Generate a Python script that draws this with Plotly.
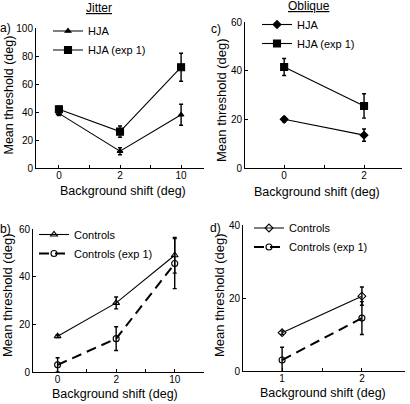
import plotly.graph_objects as go

# ---------------- data ----------------
# Panel a (Jitter, HJA)
a_shift = ["0", "2", "10"]
a_hja = [39, 12, 38]
a_hja_err = [1.5, 2.5, 7.5]
a_hja1 = [42, 26, 72]
a_hja1_err = [2, 4, 10]

# Panel b (Jitter, Controls)
b_shift = ["0", "2", "10"]
b_ctl = [15, 29, 49]
b_ctl_err = [0.5, 2.5, 7.5]
b_ctl1 = [3, 14, 45.5]
b_ctl1_err = [3, 5, 10.5]

# Panel c (Oblique, HJA)
c_shift = [0, 2]
c_hja = [20, 13.5]
c_hja_err = [1, 2.5]
c_hja1 = [41.5, 25.5]
c_hja1_err = [3.5, 5]

# Panel d (Oblique, Controls)
d_shift = [1, 2]
d_ctl = [10.5, 20.5]
d_ctl_err = [0.5, 2.5]
d_ctl1 = [3, 14.5]
d_ctl1_err = [3.5, 4.5]

jitter_cats = ["0", " ", "2", "  ", "10"]
x_title = "Background shift (deg)"
y_title = "Mean threshold (deg)"

FONT = "Liberation Sans, Arial, sans-serif"
W, H = 410, 404


def px(x):
    return x / W


def py(y):
    return 1 - y / H


fig = go.Figure()


def add(x, y, err, name, xa, ya, symbol, size, dash, lw, legend):
    fig.add_trace(go.Scatter(
        x=x, y=y, name=name, xaxis=xa, yaxis=ya, mode="lines+markers",
        line=dict(color="black", width=lw, dash=dash),
        marker=dict(symbol=symbol, size=size, color="black",
                    line=dict(color="black", width=1.1)),
        error_y=dict(type="data", array=err, color="black", thickness=1.4, width=2),
        legend=legend, showlegend=True,
    ))


add(a_shift, a_hja, a_hja_err, "HJA", "x", "y", "triangle-up", 5, "solid", 1.1, "legend")
add(a_shift, a_hja1, a_hja1_err, "HJA (exp 1)", "x", "y", "square", 7, "solid", 1.1, "legend")
add(b_shift, b_ctl, b_ctl_err, "Controls", "x2", "y2", "triangle-up-open", 6, "solid", 1.1, "legend2")
add(b_shift, b_ctl1, b_ctl1_err, "Controls (exp 1)", "x2", "y2", "circle-open", 6, "10px,6px", 2, "legend2")
add(c_shift, c_hja, c_hja_err, "HJA", "x3", "y3", "diamond", 6, "solid", 1.1, "legend3")
add(c_shift, c_hja1, c_hja1_err, "HJA (exp 1)", "x3", "y3", "square", 7, "solid", 1.1, "legend3")
add(d_shift, d_ctl, d_ctl_err, "Controls", "x4", "y4", "diamond-open", 6, "solid", 1.1, "legend4")
add(d_shift, d_ctl1, d_ctl1_err, "Controls (exp 1)", "x4", "y4", "circle-open", 6, "10px,6px", 2, "legend4")

axis_common = dict(showline=True, linecolor="black", linewidth=1, ticks="inside",
                   ticklen=3, tickcolor="black", showgrid=False, zeroline=False,
                   automargin=False,
                   tickfont=dict(family=FONT, size=10, color="black"))
x_common = dict(ticklabelstandoff=-2, **axis_common)

layout = dict(
    width=W, height=H, margin=dict(l=0, r=0, t=0, b=0, autoexpand=False),
    paper_bgcolor="white", plot_bgcolor="white",
    font=dict(family=FONT, color="black"),
    xaxis=dict(domain=[px(36), px(204)], anchor="y", type="category",
               categoryorder="array", categoryarray=jitter_cats,
               range=[-0.75, 4.75], **x_common),
    yaxis=dict(domain=[py(168), py(28)], anchor="x", range=[0, 100], dtick=20,
               **axis_common),
    xaxis2=dict(domain=[px(33), px(204)], anchor="y2", type="category",
                categoryorder="array", categoryarray=jitter_cats,
                range=[-0.84, 5.0], **x_common),
    yaxis2=dict(domain=[py(372), py(229)], anchor="x2", range=[0, 60], dtick=20,
                **axis_common),
    xaxis3=dict(domain=[px(245), px(402)], anchor="y3", range=[-0.98, 2.95],
                tickvals=[0, 1, 2], ticktext=["0", "", "2"], **x_common),
    yaxis3=dict(domain=[py(168), py(22)], anchor="x3", range=[0, 60], dtick=20,
                **axis_common),
    xaxis4=dict(domain=[px(243), px(405)], anchor="y4", range=[0.51, 2.54],
                tickvals=[1, 1.5, 2], ticktext=["1", "", "2"], **x_common),
    yaxis4=dict(domain=[py(371), py(225)], anchor="x4", range=[0, 40], dtick=20,
                **axis_common),
)

leg_common = dict(bgcolor="rgba(0,0,0,0)", font=dict(family=FONT, size=11, color="black"),
                  xanchor="left", yanchor="top", itemwidth=30, tracegroupgap=0)
layout["legend"] = dict(x=px(48), y=py(16.5), **leg_common)
layout["legend2"] = dict(x=px(34), y=py(220), **leg_common)
layout["legend3"] = dict(x=px(257), y=py(10), **leg_common)
layout["legend4"] = dict(x=px(249), y=py(213.5), **leg_common)

fig.update_layout(**layout)

ann_font = dict(family=FONT, size=12, color="black")
for text, x, y in [("<u>Jitter</u>", 98.5, 8), ("<u>Oblique</u>", 308.5, 6),
                   ("a)", 5, 28), ("b)", 5, 229), ("c)", 216, 29), ("d)", 215, 228)]:
    fig.add_annotation(text=text, x=px(x), y=py(y), xref="paper", yref="paper",
                       showarrow=False, font=ann_font, xanchor="center", yanchor="middle")

# axis titles
for x, y in [(122.5, 191), (115.5, 394), (317, 192), (323, 393)]:
    fig.add_annotation(text=x_title, x=px(x), y=py(y), xref="paper", yref="paper",
                       showarrow=False, xanchor="center", yanchor="middle",
                       font=dict(family=FONT, size=12.5, color="black"))
for x, y, s in [(8.5, 95, 12.5), (7, 295, 13), (221, 100, 13), (219, 295, 13)]:
    fig.add_annotation(text=y_title, x=px(x), y=py(y), xref="paper", yref="paper",
                       showarrow=False, xanchor="center", yanchor="middle", textangle=-90,
                       font=dict(family=FONT, size=s, color="black"))

fig.write_html("out.html")
